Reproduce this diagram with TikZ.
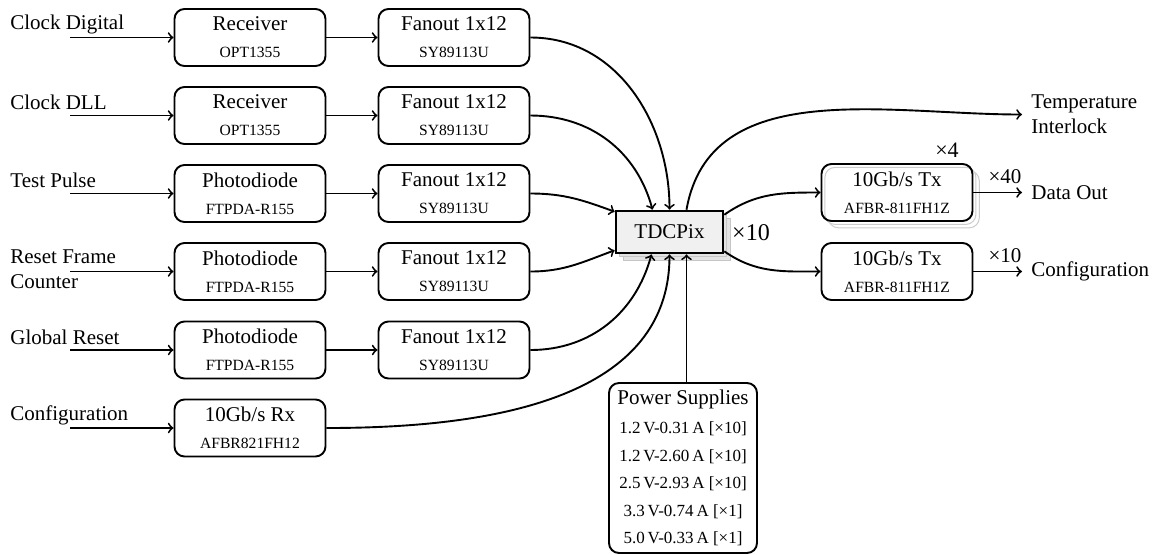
\documentclass[tikz,border=0pt]{standalone}
\usepackage{fontspec}
\setmainfont{Liberation Serif}
\usetikzlibrary{shadows,calc}
\newcommand{\subf}{\fontsize{7.8}{9}\selectfont}
\begin{document}
\begin{tikzpicture}[x=0.5pt,y=-0.5pt,
  box/.style={draw, line width=0.95pt, rounded corners=5pt, minimum width=75.5pt, minimum height=28.5pt,
    align=center, inner sep=0pt, font=\fontsize{10.5}{13.5}\selectfont},
  conn/.style={->, line width=0.95pt},
  lbl/.style={anchor=west, inner sep=0pt, align=left, font=\fontsize{10.5}{12.5}\selectfont},
  outl/.style={anchor=west, inner xsep=4.5pt, inner ysep=0pt, align=left, font=\fontsize{10.5}{12.5}\selectfont},
  mult/.style={inner sep=0pt, font=\fontsize{10.5}{12}\selectfont}]
\useasboundingbox (0,0) rectangle (1157,554);

% input labels
\node[lbl] (l1) at (10,24.5) {Clock Digital};
\node[lbl] (l2) at (10,102.5) {Clock DLL};
\node[lbl] (l3) at (10,180.5) {Test Pulse};
\node[lbl] (l4) at (10,269) {Reset Frame\\Counter};
\node[lbl] (l5) at (10,337) {Global Reset};
\node[lbl] (l6) at (10,415) {Configuration};

% input coordinates
\coordinate (i1) at (70,37.5);
\coordinate (i2) at (70,115.5);
\coordinate (i3) at (70,193.5);
\coordinate (i4) at (70,271.5);
\coordinate (i5) at (70,350);
\coordinate (i6) at (70,428);

% first column
\node[box] (r1) at (250,37.5) {Receiver\\{\subf OPT1355}};
\node[box] (r2) at (250,115.5) {Receiver\\{\subf OPT1355}};
\node[box] (p3) at (250,193.5) {Photodiode\\{\subf FTPDA-R155}};
\node[box] (p4) at (250,271.5) {Photodiode\\{\subf FTPDA-R155}};
\node[box] (p5) at (250,350) {Photodiode\\{\subf FTPDA-R155}};
\node[box] (rx) at (250,428) {10Gb/s Rx\\{\subf AFBR821FH12}};

% fanouts
\node[box] (f1) at (454,37.5) {Fanout 1x12\\{\subf SY89113U}};
\node[box] (f2) at (454,115.5) {Fanout 1x12\\{\subf SY89113U}};
\node[box] (f3) at (454,193.5) {Fanout 1x12\\{\subf SY89113U}};
\node[box] (f4) at (454,271.5) {Fanout 1x12\\{\subf SY89113U}};
\node[box] (f5) at (454,350) {Fanout 1x12\\{\subf SY89113U}};

% TDCPix
\node[draw, line width=1.3pt, fill=gray!12, minimum width=53.5pt, minimum height=21pt, inner sep=0pt,
  font=\fontsize{10.5}{12}\selectfont,
  double copy shadow={shadow xshift=1.75pt, shadow yshift=-1.75pt, draw=gray!45, fill=gray!22, line width=0.5pt}]
  (tdc) at (669.5,232) {TDCPix};
\node[inner sep=0pt, font=\fontsize{12}{14}\selectfont] (m10) at (751,233) {×10};

% Tx boxes
\node[box, double copy shadow={shadow xshift=1.7pt, shadow yshift=-1.7pt, draw=gray!40, fill=white, line width=0.5pt}]
  (tx1) at (897,192.5) {10Gb/s Tx\\{\subf AFBR-811FH1Z}};
\node[box] (tx2) at (897,271.5) {10Gb/s Tx\\{\subf AFBR-811FH1Z}};
\node[inner sep=0pt, font=\fontsize{11}{13}\selectfont] (m4) at (947,150) {×4};

% outputs
\node[outl] (temp) at (1022,114.5) {Temperature\\Interlock};
\node[outl] (dout) at (1022,192.5) {Data Out};
\node[outl] (cout) at (1022,271.5) {Configuration};
\node[mult] (m40) at (1005,177) {×40};
\node[mult] (m10b) at (1005,256) {×10};

% power supplies
\node[draw, line width=0.95pt, rounded corners=5pt, minimum width=74pt, minimum height=85pt, align=center,
  inner sep=0pt, font=\fontsize{8.5}{13.75}\selectfont] (ps) at (683,468)
  {{\fontsize{10.5}{12}\selectfont Power Supplies}\\[0.75pt]
   1.2\,V-0.31\,A [×10]\\
   1.2\,V-2.60\,A [×10]\\
   2.5\,V-2.93\,A [×10]\\
   3.3\,V-0.74\,A [×1]\\
   5.0\,V-0.33\,A [×1]};

% connection points on TDCPix
\coordinate (tn2) at ([xshift=-8.5pt]tdc.north);
\coordinate (tn3) at ([xshift=8.5pt]tdc.north);
\coordinate (tw1) at ([yshift=-1pt]tdc.north west);
\coordinate (tw2) at ([yshift=2pt]tdc.south west);
\coordinate (ts1) at ([xshift=-9pt]tdc.south);
\coordinate (ts3) at ([xshift=8.5pt]tdc.south);
\coordinate (te1) at ([yshift=-2.5pt]tdc.north east);
\coordinate (te2) at ([yshift=1.5pt]tdc.south east);

% inputs
\foreach \a/\b in {i1/r1,i2/r2,i3/p3,i4/p4,i5/p5,i6/rx} \draw[conn] (\a) -- (\b);
\foreach \a/\b in {r1/f1,r2/f2,p3/f3,p4/f4,p5/f5} \draw[conn] (\a) -- (\b);

% into TDCPix
\draw[conn] (f1.east) to[out=0,in=90] (tdc.north);
\draw[conn] (f2.east) to[out=0,in=105] (tn2);
\draw[conn] (f3.east) to[out=0,in=160] (tw1);
\draw[conn] (f4.east) to[out=0,in=200] (tw2);
\draw[conn] (f5.east) to[out=0,in=-105] (ts1);
\draw[conn] (rx.east) to[out=0,in=-90] (tdc.south);
\draw[conn] (ts3 |- ps.north) -- (ts3);

% out of TDCPix
\draw[conn] (tn3) to[out=80,in=180] (temp.west);
\draw[conn] (te1) to[out=35,in=180] (tx1.west);
\draw[conn] (te2) to[out=-35,in=180] (tx2.west);
\draw[conn] (tx1.east) -- (dout.west);
\draw[conn] (tx2.east) -- (cout.west);
\end{tikzpicture}
\end{document}
